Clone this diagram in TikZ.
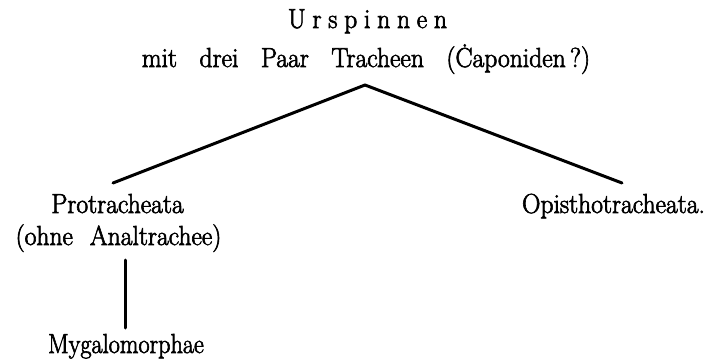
\documentclass[tikz,border=0pt]{standalone}
\usepackage{fontspec}
\setmainfont{Latin Modern Roman}[FakeBold=2.4]
\newcommand{\cx}[1]{\scalebox{0.93}[1]{#1}}
\begin{document}
\begin{tikzpicture}[x=1pt,y=-1pt,
  lbl/.style={anchor=base,inner sep=0pt,outer sep=0pt,font=\fontsize{27.5}{33}\selectfont},
  branch/.style={line width=3pt,line cap=round}]
\useasboundingbox[fill=white] (0,0) rectangle (721,361);
\node[lbl] (ur) at (367.5,28) {\cx{\makebox[171pt][s]{U r s p i n n e n}}};
\node[lbl] (mit) at (366,67) {\cx{\makebox[482pt][s]{mit drei Paar Tracheen (\.{C}aponiden\,?)}}};
\node[lbl] (pro) at (117.5,213) {\cx{Protracheata}};
\node[lbl] (ohne) at (118.5,245) {\cx{(ohne\hspace{10pt} Analtrachee)}};
\node[lbl] (opi) at (613.5,213) {\cx{Opisthotracheata.}};
\node[lbl] (myg) at (126,353) {\scalebox{0.88}[1]{Mygalomorphae}};
\coordinate (apex) at (365,85);
\coordinate (lend) at (113,183);
\coordinate (rend) at (622,183);
\coordinate (vtop) at (125,260);
\coordinate (vbot) at (125,328);
\draw[branch] (apex) -- (lend);
\draw[branch] (apex) -- (rend);
\draw[branch] (vtop) -- (vbot);
\end{tikzpicture}
\end{document}
